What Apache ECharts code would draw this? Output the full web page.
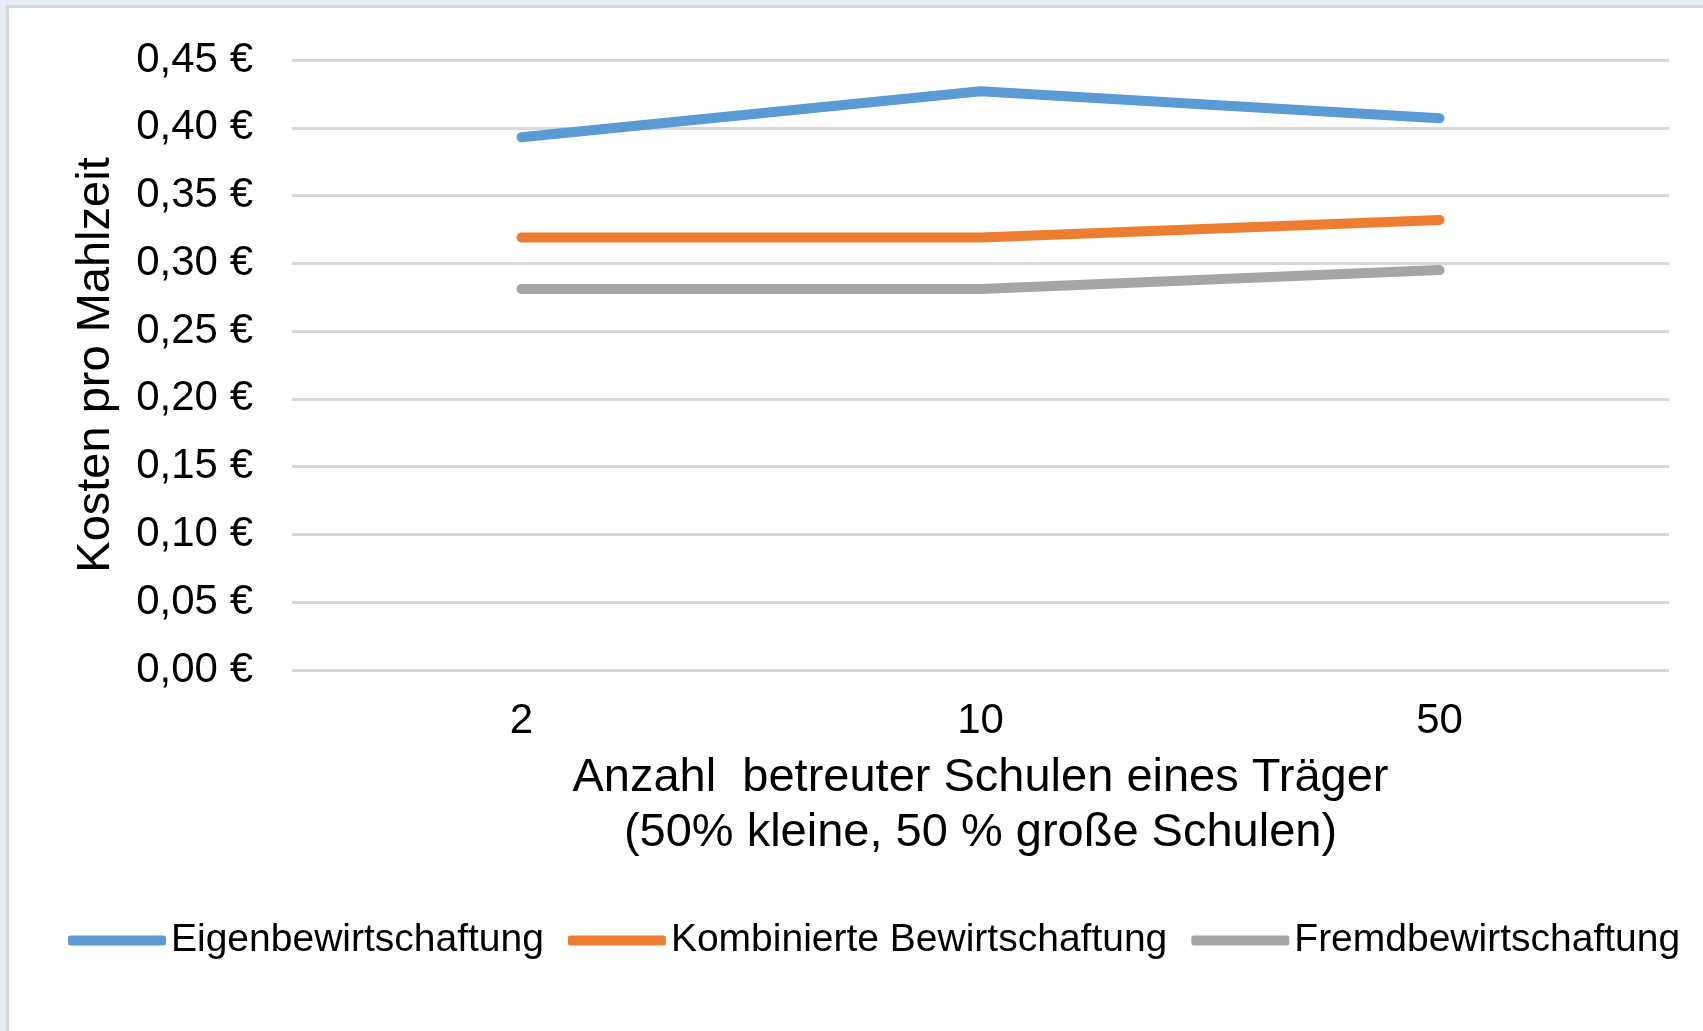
<!DOCTYPE html>
<html>
<head>
<meta charset="utf-8">
<title>Kosten pro Mahlzeit</title>
<script src="https://cdn.jsdelivr.net/npm/echarts@6/dist/echarts.min.js"></script>
<style>
  html, body {
    margin: 0;
    padding: 0;
    background: #e8ecf6;
  }
  .panel {
    position: absolute;
    left: 6px;
    top: 5px;
    width: 1703px;
    height: 1040px;
    background: #fff;
    border-top: 3px solid #d6d6d6;
    border-left: 3px solid #d6d6d6;
  }
  #chart {
    position: absolute;
    left: 0;
    top: 0;
    width: 1703px;
    height: 1031px;
  }
</style>
</head>
<body>
<div class="panel"></div>
<div id="chart"></div>
<script>
const categories = ['2', '10', '50']
const eigen = [0.393, 0.427, 0.407]
const kombiniert = [0.319, 0.319, 0.332]
const fremd = [0.281, 0.281, 0.295]
const seriesNames = ['Eigenbewirtschaftung', 'Kombinierte Bewirtschaftung', 'Fremdbewirtschaftung']
const colors = ['#5b9bd5', '#ed7d31', '#a5a5a5']

const font = "'Liberation Sans', Arial, sans-serif"

const chart = echarts.init(document.getElementById('chart'))

const makeLine = (name, data) => ({
  name,
  type: 'line',
  data,
  symbol: 'none',
  lineStyle: { width: 10, cap: 'round', join: 'round' },
})

const option = {
  animation: false,
  backgroundColor: 'transparent',
  color: colors,
  textStyle: { fontFamily: font },
  grid: {
    left: 292,
    right: 34,
    top: 60,
    bottom: 361,
  },
  legend: {
    data: seriesNames,
    left: 63,
    top: 916,
    icon: 'roundRect',
    itemWidth: 98,
    itemHeight: 10,
    itemGap: 24,
    textStyle: { fontSize: 39, color: '#000', fontFamily: font },
  },
  xAxis: {
    type: 'category',
    data: categories,
    boundaryGap: true,
    axisLine: { show: false },
    axisTick: { show: false },
    axisLabel: { fontSize: 42, color: '#000', margin: 30 },
    name: 'Anzahl  betreuter Schulen eines Träger\n(50% kleine, 50 % große Schulen)',
    nameLocation: 'middle',
    nameGap: 81,
    nameTextStyle: { fontSize: 47, color: '#000', lineHeight: 55 },
  },
  yAxis: {
    type: 'value',
    min: 0,
    max: 0.45,
    interval: 0.05,
    axisLine: { show: false },
    axisTick: { show: false },
    axisLabel: {
      fontSize: 42,
      color: '#000',
      margin: 39,
      formatter: (v) => v.toFixed(2).replace('.', ',') + ' €',
    },
    splitLine: { lineStyle: { color: '#d9d9d9', width: 3 } },
    name: 'Kosten pro Mahlzeit',
    nameLocation: 'middle',
    nameRotate: 90,
    nameGap: 172,
    nameTextStyle: { fontSize: 47, color: '#000' },
  },
  series: [
    makeLine(seriesNames[0], eigen),
    makeLine(seriesNames[1], kombiniert),
    makeLine(seriesNames[2], fremd),
  ],
}

chart.setOption(option)
</script>
</body>
</html>
